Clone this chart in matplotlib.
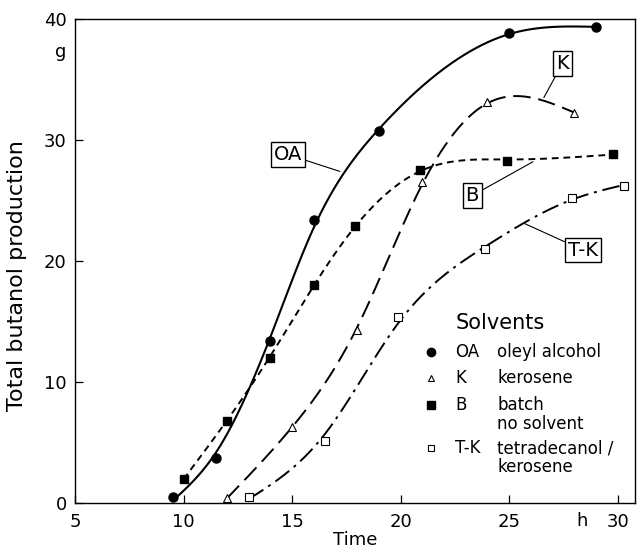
import numpy as np
import matplotlib
matplotlib.use('Agg')
import matplotlib.pyplot as plt

plt.rcParams['font.family'] = ['DejaVu Sans']

# data (time in h, butanol in g)
oa_t = [9.5, 11.5, 14.0, 16.0, 19.0, 25.0, 29.0]
oa_g = [0.5, 3.7, 13.4, 23.4, 30.7, 38.8, 39.3]

k_t = [12.0, 15.0, 18.0, 21.0, 24.0, 28.0]
k_g = [0.4, 6.3, 14.3, 26.5, 33.1, 32.2]

b_t = [10.0, 12.0, 14.0, 16.0, 17.9, 20.9, 24.9, 29.8]
b_g = [2.0, 6.8, 12.0, 18.0, 22.9, 27.5, 28.3, 28.8]

tk_t = [13.0, 16.5, 19.9, 23.9, 27.9, 30.3]
tk_g = [0.5, 5.1, 15.4, 21.0, 25.2, 26.2]

x_ticks = [5, 10, 15, 20, 25, 30]
y_ticks = [0, 10, 20, 30, 40]

legend_codes = ['OA', 'K', 'B', 'T-K']
legend_names = ['oleyl alcohol', 'kerosene', 'batch\nno solvent', 'tetradecanol /\nkerosene']


def smooth_curve(x, y, lam, n=300):
    # penalised smoothing on a fine grid (like a hand drawn french-curve line)
    x = np.asarray(x, float)
    y = np.asarray(y, float)
    xs = np.linspace(x[0], x[-1], n)
    step = xs[1] - xs[0]
    B = np.zeros((len(x), n))
    for i, xv in enumerate(x):
        j = min(int((xv - xs[0]) / step), n - 2)
        f = (xv - xs[j]) / step
        B[i, j] = 1 - f
        B[i, j + 1] = f
    D = np.diff(np.eye(n), 2, axis=0) / step ** 2
    A = B.T @ B + lam * step * (D.T @ D)
    ys = np.linalg.solve(A, B.T @ y)
    return xs, ys


fig = plt.figure(figsize=(6.43, 5.57), dpi=100)
ax = fig.add_axes([0.1166, 0.097, 0.871, 0.869])

# curves
xs, ys = smooth_curve(oa_t, oa_g, 0.6)
ax.plot(xs, ys, color='black', lw=1.5, ls='-')
xs, ys = smooth_curve(k_t, k_g, 0.3)
ax.plot(xs, ys, color='black', lw=1.4, ls=(0, (9, 4)))
xs, ys = smooth_curve(b_t, b_g, 0.6)
ax.plot(xs, ys, color='black', lw=1.4, ls=(0, (3.5, 2.5)))
xs, ys = smooth_curve(tk_t, tk_g, 1.0)
ax.plot(xs, ys, color='black', lw=1.4, ls=(0, (9, 3, 1.5, 3)))

# points
ax.plot(oa_t, oa_g, 'o', color='black', ms=6.5, ls='none')
ax.plot(k_t, k_g, '^', mfc='white', mec='black', mew=0.8, ms=6, ls='none')
ax.plot(b_t, b_g, 's', color='black', ms=5.5, ls='none')
ax.plot(tk_t, tk_g, 's', mfc='white', mec='black', mew=0.8, ms=5.5, ls='none')

ax.set_xlim(5, 30.8)
ax.set_ylim(0, 40)
ax.set_xticks(x_ticks)
ax.set_yticks(y_ticks)
ax.tick_params(direction='in', length=6, width=0.9, labelsize=13)
ax.tick_params(axis='x', pad=7)
ax.tick_params(axis='y', pad=6)
for s in ax.spines.values():
    s.set_linewidth(1.0)

ax.set_xlabel('Time', fontsize=13, labelpad=0)
ax.set_ylabel('Total butanol production', fontsize=16)
ax.yaxis.set_label_coords(-0.086, 0.469)
ax.text(-0.016, 0.932, 'g', transform=ax.transAxes, fontsize=13, ha='right', va='center')
ax.text(0.906, -0.037, 'h', transform=ax.transAxes, fontsize=13, ha='center', va='center')

# boxed curve labels with leader lines
box = dict(boxstyle='square,pad=0.15', fc='white', ec='black', lw=1.0)
lab_kw = dict(fontsize=14, ha='center', va='center', bbox=box,
              arrowprops=dict(arrowstyle='-', color='black', lw=0.8, shrinkA=0, shrinkB=0))
ax.annotate('OA', xy=(17.2, 27.4), xytext=(14.8, 28.8), **lab_kw)
ax.annotate('K', xy=(26.6, 33.5), xytext=(27.45, 36.3), **lab_kw)
ax.annotate('B', xy=(26.1, 28.2), xytext=(23.3, 25.4), **lab_kw)
ax.annotate('T-K', xy=(25.7, 23.1), xytext=(28.4, 20.9), **lab_kw)

# legend block
ax.text(0.679, 0.372, 'Solvents', transform=ax.transAxes, fontsize=15, va='center')
leg_y = [0.312, 0.258, 0.202, 0.114]
leg_mk = [dict(marker='o', color='black', ms=6),
          dict(marker='^', mfc='white', mec='black', mew=0.8, ms=5),
          dict(marker='s', color='black', ms=5.5),
          dict(marker='s', mfc='white', mec='black', mew=0.8, ms=5)]
for code, name, yy, mk in zip(legend_codes, legend_names, leg_y, leg_mk):
    ax.plot([0.636], [yy], transform=ax.transAxes, ls='none', clip_on=False, **mk)
    ax.text(0.679, yy, code, transform=ax.transAxes, fontsize=12, va='center')
    ax.text(0.754, yy + 0.018, name, transform=ax.transAxes, fontsize=12,
            va='top', linespacing=1.05)

fig.savefig('out.png', dpi=100)
